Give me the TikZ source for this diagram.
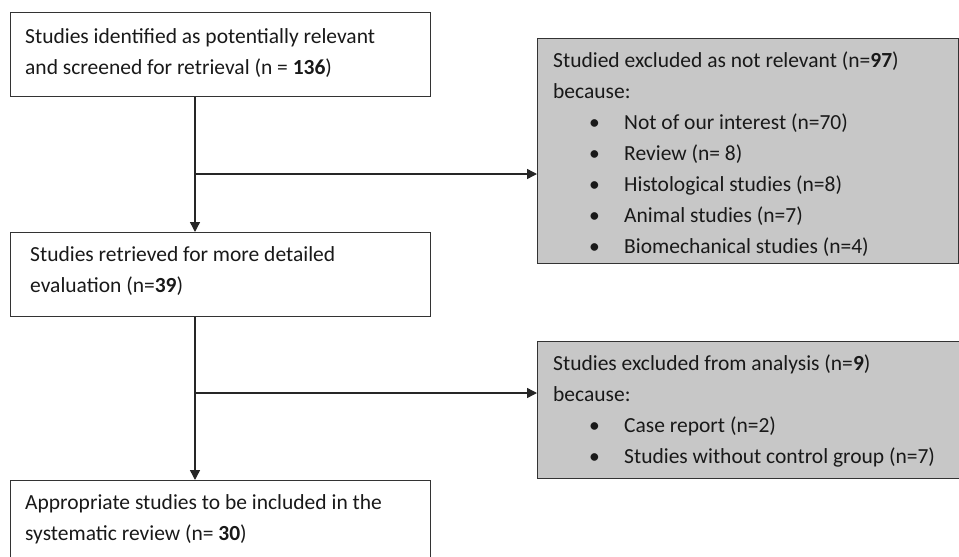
\documentclass[tikz,border=0pt]{standalone}
\usepackage{fontspec}
\setmainfont{Carlito}
\usetikzlibrary{arrows.meta}

\begin{document}
\begin{tikzpicture}[x=1pt, y=-1pt,
        box/.style={draw=black!80, line width=1.4pt, anchor=north west, inner sep=0pt},
        outbox/.style={box, fill=black!22},
        txt/.style={anchor=base west, align=left, inner sep=0pt, text=black!90,
                    font=\fontsize{21.5}{31}\selectfont},
        flow/.style={line width=1.4pt, draw=black!85},
        tip/.style={flow, -{Triangle[length=10pt, width=10pt]}}]
        \useasboundingbox (0,0) rectangle (959,557);

        % main column (text nodes sit on their last line)
        \node[box, minimum width=420, minimum height=84] (ident) at (10,12) {};
        \node[box, minimum width=420, minimum height=84] (retr) at (10,232) {};
        \node[box, minimum width=420, minimum height=95] (incl) at (10,480) {};

        \node[txt] (identtxt) at (25,74)
            {Studies identified as potentially relevant\\and screened for retrieval (n = \textbf{136})};
        \node[txt] (retrtxt) at (30,292)
            {Studies retrieved for more detailed\\evaluation (n=\textbf{39})};
        \node[txt] (incltxt) at (25,540)
            {Appropriate studies to be included in the\\systematic review (n= \textbf{30})};

        % excluded studies
        \node[outbox, minimum width=421, minimum height=225] (notrel) at (537,38) {};
        \node[outbox, minimum width=425, minimum height=137] (anal) at (537,341) {};

        \node[txt] (notreltxt) at (553,253)
            {Studied excluded as not relevant (n=\textbf{97})\\because:\\
             \hspace*{36pt}\makebox[35pt][l]{•}Not of our interest (n=70)\\
             \hspace*{36pt}\makebox[35pt][l]{•}Review (n= 8)\\
             \hspace*{36pt}\makebox[35pt][l]{•}Histological studies (n=8)\\
             \hspace*{36pt}\makebox[35pt][l]{•}Animal studies (n=7)\\
             \hspace*{36pt}\makebox[35pt][l]{•}Biomechanical studies (n=4)};
        \node[txt] (analtxt) at (553,463)
            {Studies excluded from analysis (n=\textbf{9})\\because:\\
             \hspace*{36pt}\makebox[35pt][l]{•}Case report (n=2)\\
             \hspace*{36pt}\makebox[35pt][l]{•}Studies without control group (n=7)};

        % connectors
        \coordinate (split1) at (195,174);
        \coordinate (split2) at (195,393);
        \draw[tip] (ident.south -| split1) -- (retr.north -| split1);
        \draw[tip] (split1) -- (split1 -| notrel.west);
        \draw[tip] (retr.south -| split2) -- (incl.north -| split2);
        \draw[tip] (split2) -- (split2 -| anal.west);
    \end{tikzpicture}
\end{document}
